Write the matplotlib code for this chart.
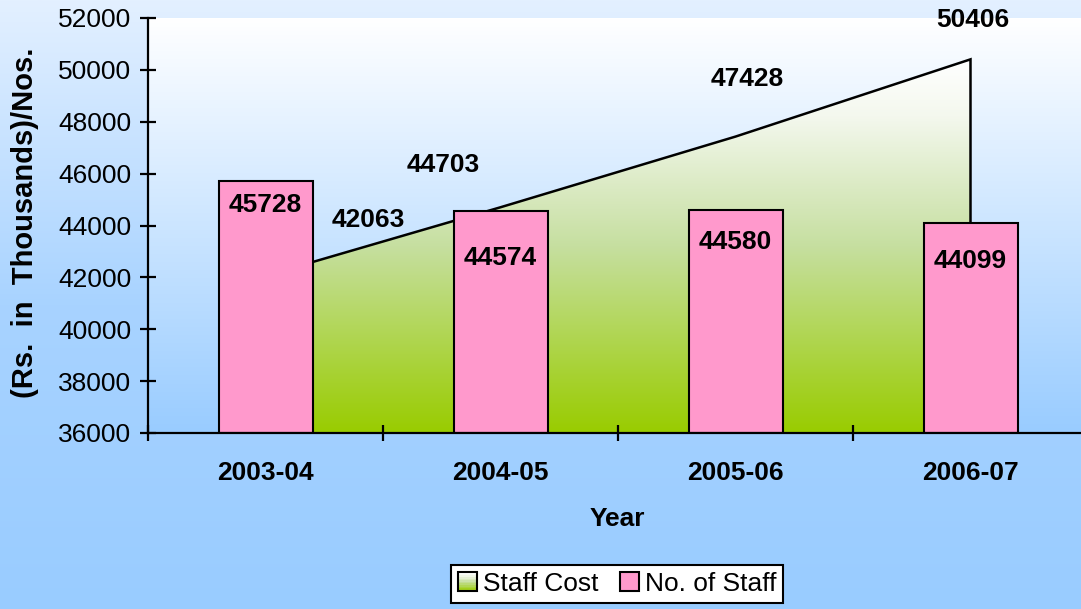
import numpy as np
import matplotlib
matplotlib.use("Agg")
import matplotlib.pyplot as plt
from matplotlib.colors import LinearSegmentedColormap
from matplotlib.patches import Rectangle
from matplotlib.legend_handler import HandlerBase

# ---------------- data ----------------
years = ["2003-04", "2004-05", "2005-06", "2006-07"]
staff_cost = [42063, 44703, 47428, 50406]
no_of_staff = [45728, 44574, 44580, 44099]
y_ticks = [36000, 38000, 40000, 42000, 44000, 46000, 48000, 50000, 52000]

plt.rcParams['font.family'] = ['Liberation Sans', 'DejaVu Sans']

W, H = 1081, 609
fig = plt.figure(figsize=(W / 100, H / 100), dpi=100)

# figure background gradient
bg = fig.add_axes([0, 0, 1, 1], zorder=-10)
bg_cmap = LinearSegmentedColormap.from_list("bg", ["#99ccff", "#a8d3ff", "#e3f0ff"])
bg.imshow(np.linspace(0, 1, 256).reshape(-1, 1)[::-1], aspect='auto', cmap=bg_cmap,
          extent=[0, 1, 0, 1], origin='upper')
bg.set_axis_off()

left = 148 / W
right = 1088 / W
bottom = 1 - 433 / H
top = 1 - 18 / H
ax = fig.add_axes([left, bottom, right - left, top - bottom])
ax.patch.set_alpha(0)

x = np.arange(len(years))
ax.set_xlim(-0.5, len(years) - 0.5)
ax.set_ylim(y_ticks[0], y_ticks[-1])

# plot-area gradient (white top -> light blue bottom)
pa_cmap = LinearSegmentedColormap.from_list("pa", ["#99ccff", "#ffffff"])
ax.imshow(np.linspace(0, 1, 256).reshape(-1, 1), aspect='auto', cmap=pa_cmap,
          extent=[-0.5, len(years) - 0.5, y_ticks[0], y_ticks[-1]], origin='lower', zorder=0)

# area with green gradient
poly = ax.fill_between(x, staff_cost, y_ticks[0], facecolor='none', edgecolor='none', zorder=1)
area_cmap = LinearSegmentedColormap.from_list("area", [(0, "#99cc00"), (0.5, "#c6dfa0"), (0.85, "#f4f8ee"), (1, "#ffffff")])
img = ax.imshow(np.linspace(0, 1, 256).reshape(-1, 1), aspect='auto', cmap=area_cmap,
                extent=[x[0], x[-1], y_ticks[0], max(staff_cost)], origin='lower', zorder=1)
img.set_clip_path(poly.get_paths()[0], transform=ax.transData)
# outline of area
ox = np.concatenate([[x[0]], x, [x[-1]]])
oy = np.concatenate([[y_ticks[0]], staff_cost, [y_ticks[0]]])
ax.plot(ox, oy, color='black', lw=1.8, zorder=2, solid_joinstyle='miter')

# bars
bars = ax.bar(x, [v - y_ticks[0] for v in no_of_staff], bottom=y_ticks[0], width=0.4,
              color='#ff99cc', edgecolor='black', linewidth=1.5, zorder=3)

BOLD = 19
# labels
bar_label_drop = [24, 47, 32, 38]  # px below bar top
for xi, v, d in zip(x, no_of_staff, bar_label_drop):
    ax.annotate(f"{v}", (xi, v), xytext=(0, -d * 0.72), textcoords='offset points',
                ha='center', va='center', fontsize=BOLD, fontweight='bold', zorder=5)
area_label_off = [(103, 56), (-57, 42), (12, 58), (2, 39)]  # px
for xi, v, (dx, dy) in zip(x, staff_cost, area_label_off):
    ax.annotate(f"{v}", (xi, v), xytext=(dx * 0.72, dy * 0.72), textcoords='offset points',
                ha='center', va='center', fontsize=BOLD, fontweight='bold', zorder=5,
                annotation_clip=False)

# axes styling
for s in ['top', 'right']:
    ax.spines[s].set_visible(False)
for s in ['left', 'bottom']:
    ax.spines[s].set_linewidth(1.6)
    ax.spines[s].set_zorder(6)
ax.set_yticks(y_ticks)
ax.set_yticklabels([str(t) for t in y_ticks], fontsize=19)
ax.tick_params(axis='y', direction='inout', length=12, width=1.6, pad=6)
ax.set_xticks(x)
ax.set_xticklabels(years, fontsize=BOLD, fontweight='bold')
ax.set_xticks(np.arange(-0.5, len(years), 1.0), minor=True)
ax.tick_params(axis='x', which='major', length=0, pad=20)
ax.tick_params(axis='x', which='minor', direction='inout', length=12, width=1.6)
ax.set_xlabel("Year", fontsize=BOLD, fontweight='bold', va='center')
ax.xaxis.set_label_coords((617 / W - left) / (right - left), -(519 - 433) / (433 - 18))
ax.set_ylabel("(Rs.  in  Thousands)/Nos.", fontsize=21, fontweight='bold', va='center')
ax.yaxis.set_label_coords(-(148 - 25) / (1088 - 148), (433 - 223) / (433 - 18))


# legend with gradient handle
class GradHandler(HandlerBase):
    def create_artists(self, legend, orig_handle, xdescent, ydescent, width, height, fontsize, trans):
        arts = []
        n = 12
        s = min(width, height)
        x0 = -xdescent + (width - s) / 2
        y0 = -ydescent + (height - s) / 2
        for i in range(n):
            c = area_cmap(1 - i / (n - 1))
            r = Rectangle((x0, y0 + s - (i + 1) * s / n), s, s / n, facecolor=c, edgecolor='none', transform=trans)
            arts.append(r)
        arts.append(Rectangle((x0, y0), s, s, facecolor='none', edgecolor='black', lw=1.5, transform=trans))
        return arts


class SquareHandler(HandlerBase):
    def create_artists(self, legend, orig_handle, xdescent, ydescent, width, height, fontsize, trans):
        s = min(width, height)
        x0 = -xdescent + (width - s) / 2
        y0 = -ydescent + (height - s) / 2
        return [Rectangle((x0, y0), s, s, facecolor='#ff99cc', edgecolor='black', lw=1.5, transform=trans)]


h1 = Rectangle((0, 0), 1, 1)
h2 = Rectangle((0, 0), 1, 1)
leg = fig.legend([h1, h2], ["Staff Cost", "No. of Staff"], loc='center',
                 bbox_to_anchor=(617 / W, 1 - 584 / H), ncol=2, fontsize=19,
                 handler_map={h1: GradHandler(), h2: SquareHandler()},
                 handlelength=0.75, handleheight=0.75, handletextpad=0.2, columnspacing=0.8,
                 borderpad=0.25, fancybox=False, frameon=True, borderaxespad=0)
leg.get_frame().set_edgecolor('black')
leg.get_frame().set_linewidth(1.5)
leg.get_frame().set_facecolor('white')
leg.get_frame().set_alpha(1)

fig.savefig("out.png", dpi=100)
